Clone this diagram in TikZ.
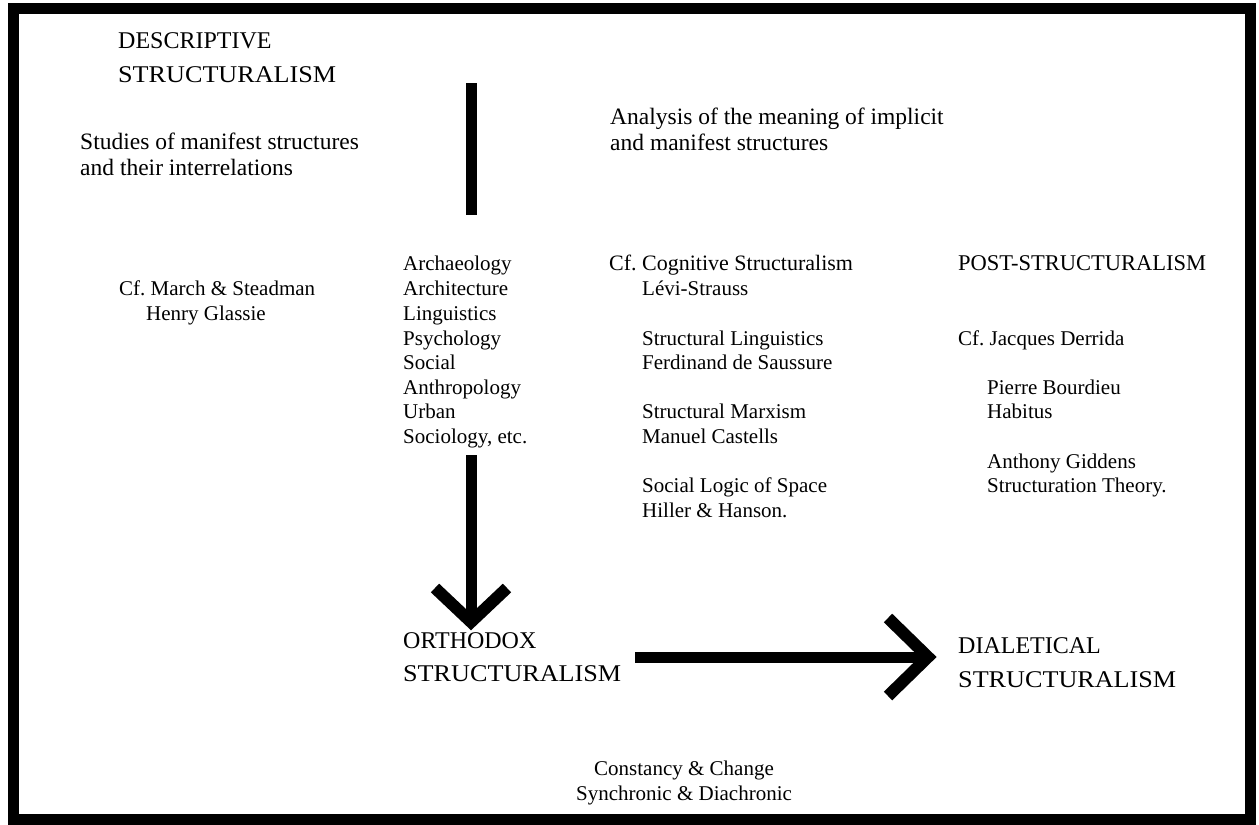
\documentclass[tikz,border=0pt]{standalone}
\usepackage{fontspec}
\usepackage{graphicx}
\setmainfont{Liberation Serif}
\newcommand{\wideSTR}{\scalebox{1.09}[1]{STRUCTURALISM}}
\begin{document}
\begin{tikzpicture}[x=1pt,y=-1pt,
  body/.style={anchor=base west,inner sep=0pt,font=\fontsize{21}{25}\selectfont},
  bigbody/.style={anchor=base west,inner sep=0pt,font=\fontsize{23.5}{28}\selectfont},
  head/.style={anchor=base west,inner sep=0pt,font=\fontsize{24}{30}\selectfont},
  bar/.style={line width=11pt,line cap=butt},
  wing/.style={line width=12pt,line cap=butt,line join=miter}]
\useasboundingbox (0,0) rectangle (1259,825);
\draw[line width=11pt] (13.5,8.5) rectangle (1250.5,819.5);
% left column
\node[head] (d1) at (118,48) {DESCRIPTIVE};
\node[head] (d2) at (118,82) {\wideSTR};
\node[bigbody] (s1) at (80,149) {Studies of manifest structures};
\node[bigbody] (s2) at (80,175) {and their interrelations};
\node[body] (m1) at (119,295) {Cf.\ March \& Steadman};
\node[body] (m2) at (146,320) {Henry Glassie};
% disciplines
\node[body] (a1) at (403,270) {Archaeology};
\node[body] (a2) at (403,295) {Architecture};
\node[body] (a3) at (403,320) {Linguistics};
\node[body] (a4) at (403,345) {Psychology};
\node[body] (a5) at (403,369) {Social};
\node[body] (a6) at (403,394) {Anthropology};
\node[body] (a7) at (403,418) {Urban};
\node[body] (a8) at (403,443) {Sociology, etc.};
% analysis column
\node[bigbody] (n1) at (610,124) {Analysis of the meaning of implicit};
\node[bigbody] (n2) at (610,150) {and manifest structures};
\node[body,font=\fontsize{22}{26}\selectfont] (c1) at (609,270) {Cf.\ Cognitive Structuralism};
\node[body] (c2) at (642,295) {Lévi-Strauss};
\node[body] (c3) at (642,345) {Structural Linguistics};
\node[body] (c4) at (642,369) {Ferdinand de Saussure};
\node[body] (c5) at (642,418) {Structural Marxism};
\node[body] (c6) at (642,443) {Manuel Castells};
\node[body] (c7) at (642,492) {Social Logic of Space};
\node[body] (c8) at (642,517) {Hiller \& Hanson.};
% post-structuralism
\node[body,font=\fontsize{22.5}{26}\selectfont] (p1) at (958,270) {POST-STRUCTURALISM};
\node[body] (p2) at (958,345) {Cf.\ Jacques Derrida};
\node[body] (p3) at (987,394) {Pierre Bourdieu};
\node[body] (p4) at (987,418) {Habitus};
\node[body] (p5) at (987,468) {Anthony Giddens};
\node[body] (p6) at (987,492) {Structuration Theory.};
% bottom
\node[head] (o1) at (403,648) {ORTHODOX};
\node[head] (o2) at (403,681) {\wideSTR};
\node[head] (x1) at (958,653) {DIALETICAL};
\node[head] (x2) at (958,687) {\wideSTR};
\node[body,anchor=base] (k1) at (684,775) {Constancy \& Change};
\node[body,anchor=base] (k2) at (684,800) {Synchronic \& Diachronic};
% arrows
\coordinate (topA) at (471,83);
\coordinate (topB) at (471,215);
\draw[bar] (topA) -- (topB);
\coordinate (vs) at (471,455);
\coordinate (vt) at (471,622);
\draw[bar] (vs) -- ([yshift=4]vt);
\draw[wing] ([xshift=-36,yshift=34]vt) -- (vt) -- ([xshift=36,yshift=34]vt);
\coordinate (hs) at (635,657);
\coordinate (ht) at (928,657);
\draw[bar] (hs) -- ([xshift=-4]ht);
\draw[wing] ([xshift=-40,yshift=39]ht) -- (ht) -- ([xshift=-40,yshift=-39]ht);
\end{tikzpicture}
\end{document}
